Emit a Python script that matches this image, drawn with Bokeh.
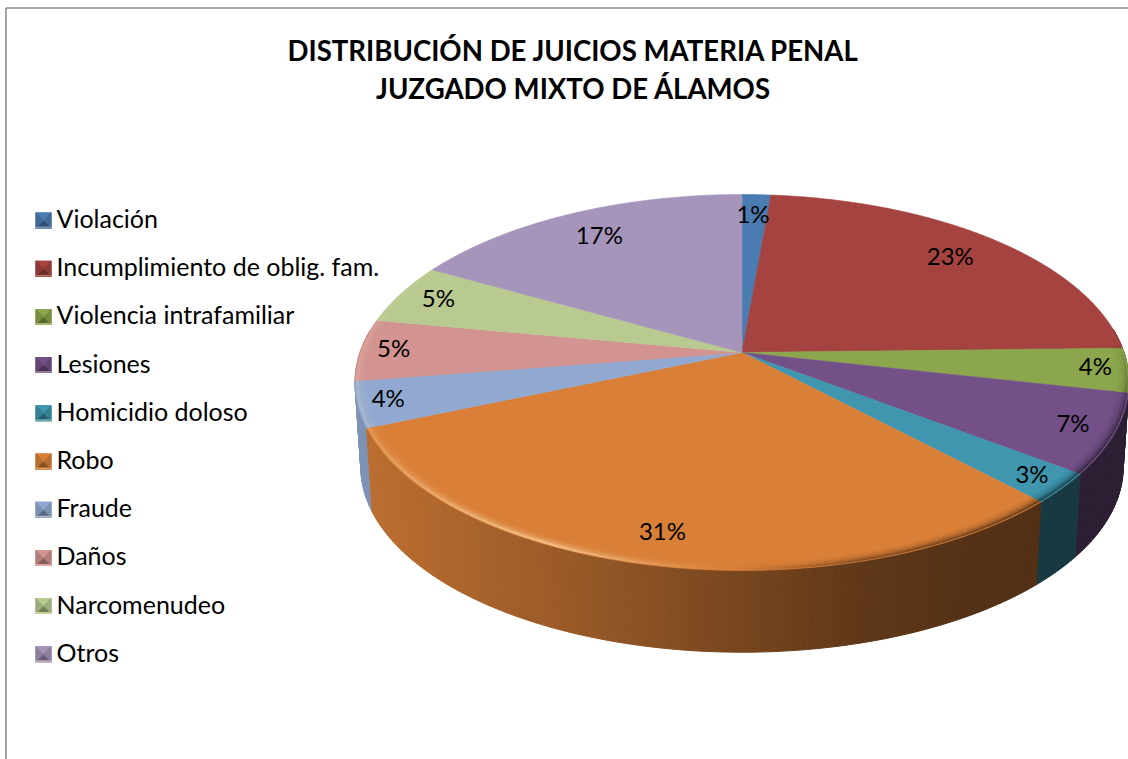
import numpy as np
from bokeh.plotting import figure
from bokeh.models import Range1d
from bokeh.core.properties import value
from bokeh.embed import file_html
from bokeh.resources import INLINE

# --- data -------------------------------------------------------------
categories = ["Violación", "Incumplimiento de oblig. fam.", "Violencia intrafamiliar",
              "Lesiones", "Homicidio doloso", "Robo", "Fraude", "Daños",
              "Narcomenudeo", "Otros"]
shares = [1.4, 23.2, 3.8, 6.8, 2.6, 30.8, 3.9, 5.3, 5.2, 16.9]
pct_labels = ["1%", "23%", "4%", "7%", "3%", "31%", "4%", "5%", "5%", "17%"]
title_lines = ["DISTRIBUCIÓN DE JUICIOS MATERIA PENAL", "JUZGADO MIXTO DE ÁLAMOS"]

# --- styles / geometry ------------------------------------------------
colors = ["#4a7cb2", "#a54341", "#8ba64c", "#735188", "#3f96ae",
          "#d97f38", "#91a9d1", "#d29391", "#b8ca90", "#a695bb"]
label_r = [0.84, 0.82, 0.92, 0.90, 0.92, 0.87, 0.92, 0.91, 0.88, 0.81]
FONT = "Lato"
CX, CY = 741.5, 352.0
K, AX, AY = 0.1596, 382.0, 183.2       # perspective of the top face
DEPTH, BSCALE = 85.0, 0.985            # offset and scale of the bottom rim


def top(theta, r=1.0):
    u, v = r * np.sin(theta), r * np.cos(theta)
    w = 1 + K * v
    return CX + AX * u / w, CY - AY * v / w


def bottom(theta):
    x, y = top(theta)
    return CX + BSCALE * (x - CX), CY + DEPTH + BSCALE * (y - CY)


def rgb(h):
    return np.array([int(h[i:i + 2], 16) for i in (1, 3, 5)], float)


def tohex(c):
    c = np.clip(np.round(c), 0, 255).astype(int)
    return "#%02x%02x%02x" % tuple(c)


def mixed(h, amt):
    c = rgb(h)
    if amt >= 0:
        return tohex(c + (np.array([255, 232, 185]) - c) * amt)
    return tohex(c * (1 + amt))


p = figure(width=1128, height=759, output_backend="svg", toolbar_location=None,
           x_range=Range1d(0, 1128), y_range=Range1d(759, 0), min_border=0)
p.axis.visible = False
p.grid.visible = False
p.outline_line_color = None
p.background_fill_color = "#ffffff"

# chart frame
p.line([5.5, 5.5], [759, 7.5], line_color="#8c8c8c", line_width=1.6)
p.line([5.5, 1128], [7.5, 7.5], line_color="#8c8c8c", line_width=1.6)

# slice angles, clockwise from the top
edges = np.cumsum([0] + shares) / sum(shares) * 2 * np.pi

# --- side wall: strips, back to front ----------------------------------
side_shade_x = [354, 400, 500, 620, 740, 860, 960, 1040, 1128]
side_shade_v = [0.87, 0.84, 0.76, 0.66, 0.55, 0.44, 0.39, 0.38, 0.38]
strips = []
for i, col in enumerate(colors):
    a0, a1 = edges[i], edges[i + 1]
    n = max(1, int(np.degrees(a1 - a0)))
    ts = np.linspace(a0, a1, n + 1)
    for t0, t1 in zip(ts[:-1], ts[1:]):
        if np.cos((t0 + t1) / 2) > 0.12:
            continue
        x0, y0 = top(t0); x1, y1 = top(t1)
        bx0, by0 = bottom(t0); bx1, by1 = bottom(t1)
        f = np.interp((x0 + x1) / 2, side_shade_x, side_shade_v)
        c = tohex(rgb(col) * f)
        strips.append(((y0 + y1) / 2, [x0, x1, bx1, bx0], [y0, y1, by1, by0], c))
strips.sort(key=lambda s: s[0])
p.patches([s[1] for s in strips], [s[2] for s in strips], fill_color=[s[3] for s in strips],
          line_color=[s[3] for s in strips], line_width=1)

# --- top face ----------------------------------------------------------
xs, ys = [], []
for i in range(len(shares)):
    ts = np.linspace(edges[i], edges[i + 1], max(3, int(np.degrees(edges[i + 1] - edges[i])) * 2))
    x, y = top(ts)
    xs.append([CX] + list(x))
    ys.append([CY] + list(y))
p.patches(xs, ys, fill_color=colors, line_color=colors, line_width=0.6)

# --- bevelled rim: graded bands so the edge reads as one soft highlight --
rim_t = np.radians([88, 110, 135, 165, 185, 205, 225, 245, 270, 300])
rim_a = [-0.05, -0.45, -0.5, -0.35, 0.08, 0.62, 0.45, 0.25, 0.2, 0.0]
for r, lw, strength in ((0.972, 1.6, 0.08), (0.977, 1.6, 0.18), (0.982, 1.6, 0.32),
                        (0.987, 1.6, 0.5), (0.991, 1.6, 0.72), (0.995, 1.8, 1.0)):
    sx, sy, sc = [], [], []
    for i, col in enumerate(colors):
        a0, a1 = edges[i], edges[i + 1]
        n = max(1, int(np.degrees(a1 - a0)))
        ts = np.linspace(a0, a1, n + 1)
        for t0, t1 in zip(ts[:-1], ts[1:]):
            tm = (t0 + t1) / 2
            if tm < rim_t[0] or tm > rim_t[-1]:
                continue
            x, y = top(np.array([t0, t1]), r)
            sx.append(list(x)); sy.append(list(y))
            sc.append(mixed(col, strength * float(np.interp(tm, rim_t, rim_a))))
    p.multi_line(sx, sy, line_color=sc, line_width=lw)

# --- percentage labels ---------------------------------------------------
mid = (edges[:-1] + edges[1:]) / 2
lx = [top(t, r)[0] - 1.5 for t, r in zip(mid, label_r)]
ly = [top(t, r)[1] - 3.0 for t, r in zip(mid, label_r)]
p.text(lx, ly, text=pct_labels, text_font=value(FONT), text_font_size="24px",
       text_align="center", text_baseline="middle", text_color="#000000")

# --- title ---------------------------------------------------------------
p.text([573, 573], [49.5, 87.5], text=title_lines, text_font=value(FONT), text_font_size="27.6px",
       text_font_style="bold", text_align="center", text_baseline="middle", text_color="#000000")

# --- legend ---------------------------------------------------------------
LX0, LS, LY0, LDY = 35.0, 16.0, 220.0, 48.2
ly_c = [LY0 + LDY * i for i in range(len(categories))]
for col, yc in zip(colors, ly_c):
    x0, x1 = LX0, LX0 + LS
    y0, y1 = yc - LS / 2, yc + LS / 2
    mx, my = (x0 + x1) / 2, (y0 + y1) / 2
    p.patches([[x0, x1, x1, x0], [x0, x1, mx], [x0, x1, mx], [x0, mx, x0], [x1, mx, x1], [x0, x1, x1, x0]],
              [[y0, y0, y1, y1], [y0, y0, my], [y1, y1, my], [y0, my, y1], [y0, my, y1], [y1 - 2, y1 - 2, y1, y1]],
              fill_color=[mixed(col, -0.2), col, mixed(col, -0.38), mixed(col, -0.15), mixed(col, -0.15), mixed(col, 0.25)],
              line_color=None)
p.text([56] * len(categories), [y - 2.5 for y in ly_c], text=categories, text_font=value(FONT),
       text_font_size="25px", text_align="left", text_baseline="middle", text_color="#000000")

open("out.html", "w").write(file_html(p, INLINE))
